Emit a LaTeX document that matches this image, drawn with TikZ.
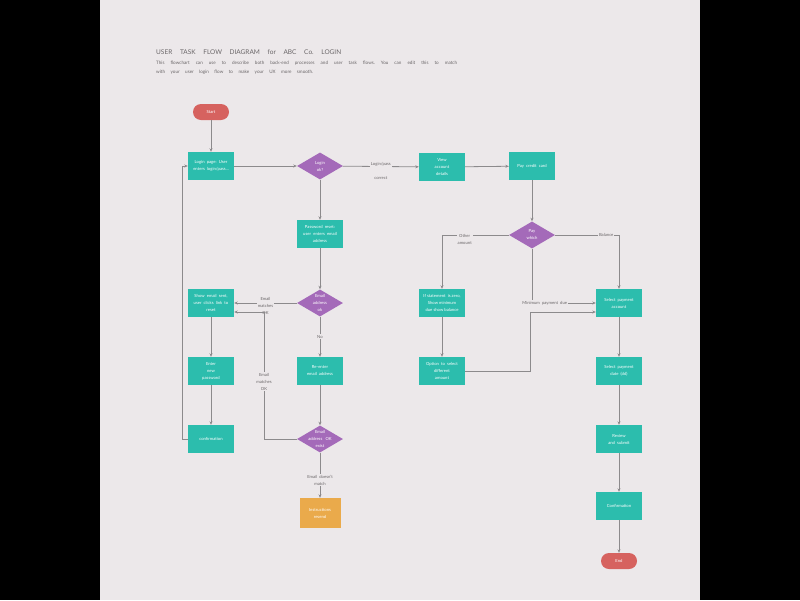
\documentclass[tikz,border=0pt]{standalone}
\usepackage{fontspec}
\setmainfont{Lato}
\usetikzlibrary{shapes.geometric,arrows.meta}
\definecolor{bg}{HTML}{ECE8EA}
\definecolor{tealbox}{HTML}{2CBDAD}
\definecolor{purp}{HTML}{A46AB9}
\definecolor{termred}{HTML}{D6625F}
\definecolor{orangebox}{HTML}{EAAA4B}
\definecolor{linegray}{HTML}{8C8A8C}
\definecolor{txtgray}{HTML}{6A6668}
\frenchspacing
\tikzset{
  box/.style={rectangle, fill=tealbox, minimum width=46pt, minimum height=28pt, inner sep=0pt, text=white, font=\fontsize{4.2}{7}\selectfont, align=center},
  obox/.style={box, fill=orangebox, minimum width=41pt, minimum height=30pt},
  dia/.style={diamond, fill=purp, minimum width=46pt, minimum height=27pt, inner sep=0pt},
  dtext/.style={text=white, font=\fontsize{4.2}{7}\selectfont, align=center},
  term/.style={rectangle, rounded corners=8pt, fill=termred, minimum width=36pt, minimum height=16pt, inner sep=0pt, text=white, font=\fontsize{4.2}{6}\selectfont},
  lbl/.style={fill=bg, inner sep=1pt, text=txtgray, font=\fontsize{4.2}{7}\selectfont, align=center},
  conn/.style={draw=linegray, line width=0.8pt},
  arr/.style={conn, -{Stealth[length=3.5pt,width=3pt]}}
}
\begin{document}
\begin{tikzpicture}[x=1pt,y=-1pt]
\fill[black] (0,0) rectangle (800,600);
\fill[bg] (100,0) rectangle (700,600);
\useasboundingbox (0,0) rectangle (800,600);

% title
\node[anchor=base west, inner sep=0, text=txtgray, font=\fontsize{6.5}{8}\selectfont] (title) at (156,54) {\makebox[185pt][s]{USER TASK FLOW DIAGRAM for ABC Co. LOGIN}};
\node[anchor=base west, inner sep=0, text=txtgray, font=\fontsize{4.6}{9}\selectfont] (desc1) at (156,64) {\makebox[301pt][s]{This flowchart can use to describe both back-end processes and user task flows. You can edit this to match}};
\node[anchor=base west, inner sep=0, text=txtgray, font=\fontsize{4.6}{9}\selectfont] (desc2) at (156,73) {\makebox[157pt][s]{with your user login flow to make your UX more smooth.}};

% nodes
\node[term] (start) at (211,112) {Start};
\node[box] (login) at (211,166) {Login \ page: \ User\\enters \ login/pass...};
\node[dia] (lok) at (320,166) {};
\node[dtext] at (lok) {Login\\ok?};
\node[box] (view) at (442,167) {View\\account\\details};
\node[box] (pay) at (532,166) {Pay \ credit \ card};
\node[dia] (which) at (532,235) {};
\node[dtext] at (which) {Pay\\which};
\node[box] (ifst) at (442,303) {If statement \ is zero,\\Show minimum\\due show balance};
\node[box] (opt) at (442,371) {Option \ to \ select\\different\\amount};
\node[box] (selacc) at (619,303) {Select \ payment\\account};
\node[box] (seldate) at (619,371) {Select \ payment\\date \ (dd)};
\node[box] (review) at (619,439) {Review\\and \ submit};
\node[box] (conf2) at (619,506) {Confirmation};
\node[term] (end) at (619,561) {End};

\node[box] (pwreset) at (320,234) {Password \ reset:\\user \ enters \ email\\address};
\node[dia] (emok) at (320,303) {};
\node[dtext] at (emok) {Email\\address\\ok};
\node[box] (reenter) at (320,371) {Re-enter\\email \ address};
\node[dia] (emex) at (320,439) {};
\node[dtext] at (emex) {Email\\address \ \ OK\\exist};
\node[obox] (instr) at (320,513) {Instructions\\resend};

\node[box] (showem) at (211,303) {Show \ email \ sent,\\user \ clicks \ link \ to\\reset};
\node[box] (newpw) at (211,371) {Enter\\new\\password};
\node[box] (conf1) at (211,439) {confirmation};

% connectors
\draw[arr] (start) -- (login);
\draw[arr] (login) -- (lok);
\draw[arr] (lok) -- (view) node[lbl, midway, font=\fontsize{4.2}{14}\selectfont, yshift=-4pt] (lpc) {Login/pass\\correct};
\draw[arr] (view) -- (pay);
\draw[arr] (pay) -- (which);
\draw[arr] (which.west) -| (ifst.north) node[lbl, pos=0.33, yshift=-4pt] (oth) {Other\\amount};
\draw[arr] (which.east) -| (selacc.north) node[lbl, pos=0.4] (bal) {Balance};
\draw[arr] (which.south) |- (selacc.west) node[lbl, pos=0.6] (minp) {Minimum \ payment \ due};
\draw[arr] (ifst) -- (opt);
\coordinate (optc) at (530,371);
\coordinate (optc2) at (530,312);
\draw[arr] (opt.east) -- (optc) -- (optc2) -- (selacc.west |- optc2);
\draw[arr] (selacc) -- (seldate);
\draw[arr] (seldate) -- (review);
\draw[arr] (review) -- (conf2);
\draw[arr] (conf2) -- (end);

\draw[arr] (lok) -- (pwreset);
\draw[arr] (pwreset) -- (emok);
\draw[arr] (emok.west) -- (showem.east) node[lbl, pos=0.5, yshift=-3pt] (em1) {Email\\matches\\OK};
\draw[arr] (emok) -- (reenter) node[lbl, pos=0.5] (no) {No};
\draw[arr] (reenter) -- (emex);
\coordinate (emexc) at (264,439);
\coordinate (emexc2) at (264,312);
\draw[arr] (emex.west) -- (emexc) -- (emexc2) node[lbl, pos=0.45] (em2) {Email\\matches\\OK} -- (showem.east |- emexc2);
\draw[arr] (emex) -- (instr) node[lbl, pos=0.5, yshift=-5pt] (edm) {Email \ doesn't\\match};

\draw[arr] (showem) -- (newpw);
\draw[arr] (newpw) -- (conf1);
\coordinate (lp1) at (182,439);
\coordinate (lp2) at (182,166);
\draw[arr] (conf1.west) -- (lp1) -- (lp2) -- (login.west);
\end{tikzpicture}
\end{document}
